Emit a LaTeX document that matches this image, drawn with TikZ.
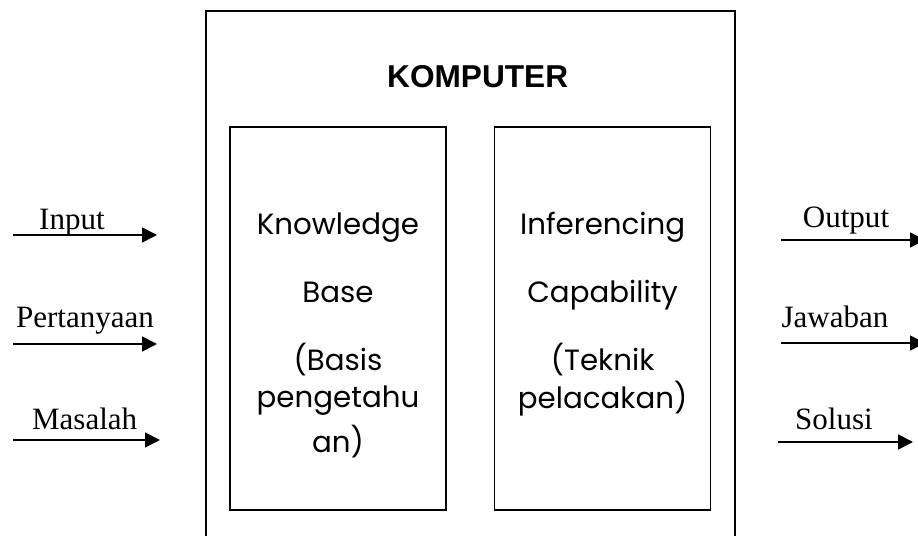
\documentclass[tikz,border=0pt]{standalone}
\usepackage{fontspec}
\setmainfont{Liberation Serif}
\newfontfamily\gothic{Poppins}
\newfontfamily\arialfont{Liberation Sans}
\usetikzlibrary{arrows.meta,positioning}

\begin{document}
\begin{tikzpicture}[line join=miter, >={Triangle[length=0.45cm,width=0.45cm]},
	kotak/.style={draw, line width=1.4pt, minimum width=6.48cm, minimum height=11.49cm, inner sep=0},
	isi/.style={font=\gothic\fontsize{25}{32.4}\selectfont, align=center, anchor=north, inner sep=0},
	ket/.style={font=\fontsize{26.5}{30}\selectfont, anchor=base, inner sep=0},
	panah/.style={->, line width=1.5pt}]
	\clip (0,0) rectangle (27.54,16.08);
	% kotak komputer
	\draw[line width=1.5pt] (6.18,-1) |- (22.05,15.75) -- (22.05,-1);
	\node[font=\arialfont\bfseries\fontsize{27}{30}\selectfont, anchor=base, inner sep=0] (judul) at (14.33,13.44) {KOMPUTER};
	\node[kotak] (kb) at (10.14,6.525) {};
	\node[kotak, right=1.41cm of kb] (ic) {};
	\node[isi, below=2.58cm of kb.north] (kbisi) {Knowledge\\[0.9cm]Base\\[0.9cm](Basis\\pengetahu\\[0.21cm]an)};
	\node[isi, below=2.58cm of ic.north] (icisi) {Inferencing\\[0.9cm]Capability\\[0.9cm](Teknik\\pelacakan)};
	% panah masuk
	\coordinate (m1a) at (0.39,9.03); \coordinate (m1b) at (4.71,9.03);
	\coordinate (m2a) at (0.39,5.76); \coordinate (m2b) at (4.71,5.76);
	\coordinate (m3a) at (0.39,2.88); \coordinate (m3b) at (4.80,2.88);
	\foreach \i in {1,2,3} \draw[panah] (m\i a) -- (m\i b);
	\node[ket] (m1) at (2.16,9.18) {Input};
	\node[ket] (m2) at (2.55,6.24) {Pertanyaan};
	\node[ket] (m3) at (2.54,3.18) {Masalah};
	% panah keluar
	\coordinate (k1a) at (23.43,8.88); \coordinate (k1b) at (27.75,8.88);
	\coordinate (k2a) at (23.43,5.79); \coordinate (k2b) at (27.75,5.79);
	\coordinate (k3a) at (23.34,2.82); \coordinate (k3b) at (27.39,2.82);
	\foreach \i in {1,2,3} \draw[panah] (k\i a) -- (k\i b);
	\node[ket] (k1) at (25.38,9.24) {Output};
	\node[ket] (k2) at (25.05,6.24) {Jawaban};
	\node[ket] (k3) at (25.02,3.18) {Solusi};
\end{tikzpicture}
\end{document}
